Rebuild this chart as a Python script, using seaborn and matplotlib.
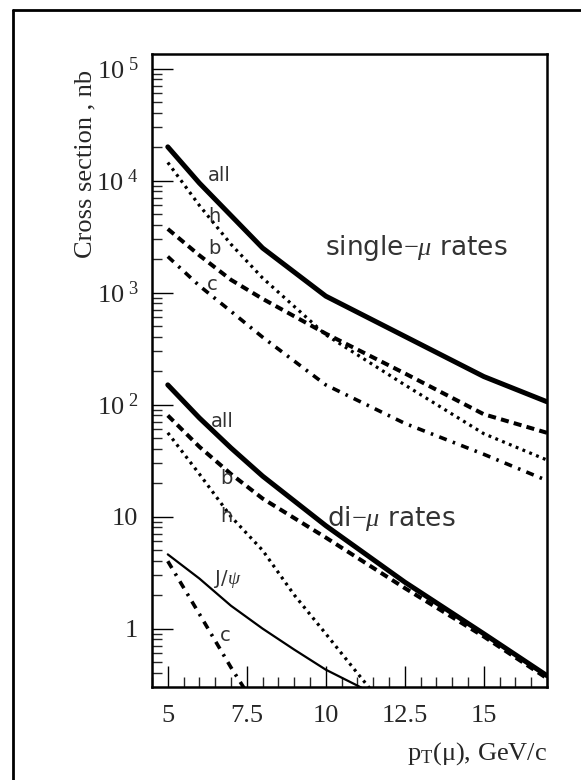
import numpy as np
import matplotlib
matplotlib.use("Agg")
import matplotlib.pyplot as plt
import matplotlib.ticker as mticker
from matplotlib.lines import Line2D
import seaborn as sns

# single-muon rates (nb) vs pT
pt_all1 = [5, 6, 8, 10, 15, 17]
single_all = [2.0e4, 9500, 2500, 930, 178, 106]
pt1 = [5, 6, 7, 8, 10, 12.5, 15, 17]
single_h = [1.45e4, 6000, 2700, 1350, 420, 150, 55, 32]
single_b = [3700, 2150, 1300, 880, 430, 190, 82, 56]
single_c = [2100, 1150, 680, 400, 150, 68, 36, 21]

# di-muon rates (nb) vs pT
pt2 = [5, 6, 7, 8, 10, 12.5, 15, 17]
di_all = [150, 76, 41, 23, 8.3, 2.6, 0.9, 0.38]
di_b = [80, 42, 24, 14.5, 6.5, 2.3, 0.85, 0.36]
pt_h2 = [5, 6, 7, 8, 9, 10, 11, 12]
di_h = [56, 24, 10, 5.0, 2.0, 0.9, 0.4, 0.18]
pt_jpsi = [5, 6, 7, 8, 9, 10, 11, 12]
di_jpsi = [4.6, 2.8, 1.6, 1.0, 0.65, 0.43, 0.31, 0.22]
pt_c2 = [5, 6, 7, 7.5]
di_c = [4.0, 1.35, 0.45, 0.27]

xticks = [5, 7.5, 10, 12.5, 15]
xticklabels = ["5", "7.5", "10", "12.5", "15"]

sns.set_style("ticks")
plt.rcParams["font.family"] = ["Liberation Serif", "DejaVu Serif"]
plt.rcParams["mathtext.fontset"] = "custom"
plt.rcParams["mathtext.rm"] = "Liberation Serif"
plt.rcParams["mathtext.it"] = "Liberation Serif:italic"

fig = plt.figure(figsize=(5.81, 7.80), dpi=100)
ax = fig.add_axes([0.2616, 0.1196, 0.6799, 0.8112])

dash_b = (0, (2.0, 1.3))
dots = (0, (0.9, 1.4))
dashdot = (0, (2.2, 1.8, 0.7, 1.8))

sns.lineplot(x=pt_all1, y=single_all, ax=ax, color="black", lw=3.6)
sns.lineplot(x=pt1, y=single_h, ax=ax, color="black", lw=2.3, linestyle=dots)
sns.lineplot(x=pt1, y=single_b, ax=ax, color="black", lw=2.9, linestyle=dash_b)
sns.lineplot(x=pt1, y=single_c, ax=ax, color="black", lw=2.6, linestyle=dashdot)

sns.lineplot(x=pt2, y=di_all, ax=ax, color="black", lw=3.6)
sns.lineplot(x=pt2, y=di_b, ax=ax, color="black", lw=2.9, linestyle=dash_b)
sns.lineplot(x=pt_h2, y=di_h, ax=ax, color="black", lw=2.3, linestyle=dots)
sns.lineplot(x=pt_jpsi, y=di_jpsi, ax=ax, color="black", lw=1.6)
sns.lineplot(x=pt_c2, y=di_c, ax=ax, color="black", lw=2.6, linestyle=dashdot)

ax.set_yscale("log")
ax.set_xlim(4.5, 17)
ax.set_ylim(0.303, 1.35e5)

ax.xaxis.set_major_locator(mticker.FixedLocator(xticks))
ax.xaxis.set_major_formatter(mticker.FixedFormatter(xticklabels))
ax.xaxis.set_minor_locator(mticker.MultipleLocator(0.5))

def ylab(v, pos):
    e = int(round(np.log10(v)))
    if e == 0:
        return "1"
    if e == 1:
        return "10"
    return r"$\mathrm{10}^{\mathrm{\ %d}}$" % e

ax.yaxis.set_major_locator(mticker.LogLocator(base=10, numticks=10))
ax.yaxis.set_major_formatter(mticker.FuncFormatter(ylab))
ax.yaxis.set_minor_locator(mticker.LogLocator(base=10, subs=np.arange(2, 10), numticks=20))
ax.yaxis.set_minor_formatter(mticker.NullFormatter())

ax.tick_params(which="major", direction="in", length=15, width=1, labelsize=19,
               top=False, right=False, pad=10, color="black")
ax.tick_params(axis="x", which="major", pad=13)
ax.tick_params(which="minor", direction="in", length=7.5, width=1,
               top=False, right=False)
for s in ax.spines.values():
    s.set_linewidth(1.8)
    s.set_color("black")

ax.set_ylabel("Cross section , nb", fontsize=19, loc="top")
ax.yaxis.set_label_coords(-0.14, 0.975)
ax.set_xlabel(r"p$_{\mathrm{T}}$(μ), GeV/c", fontsize=19, loc="right")
ax.xaxis.set_label_coords(1.0, -0.085)

sans = dict(family="DejaVu Sans", color="#333333", ha="center", va="center")
ax.text(6.64, 1.1e4, "all", fontsize=14, **sans)
ax.text(6.48, 4800, "h", fontsize=14, **sans)
ax.text(6.48, 2500, "b", fontsize=14, **sans)
ax.text(6.42, 1170, "c", fontsize=14, **sans)
ax.text(12.86, 2500, "single$-\\mu$ rates", fontsize=19, **sans)

ax.text(6.74, 70, "all", fontsize=14, **sans)
ax.text(6.84, 22, "b", fontsize=14, **sans)
ax.text(6.84, 10, "h", fontsize=14, **sans)
ax.text(6.9, 2.8, "J/$\\psi$", fontsize=14, **sans)
ax.text(6.83, 0.86, "c", fontsize=14, **sans)
ax.text(12.06, 9.7, "di$-\\mu$ rates", fontsize=19, **sans)

# outer frame (left and top edges visible)
fx = 13 / 581
fy = 1 - 10 / 780
fig.add_artist(Line2D([fx, fx], [0, fy], transform=fig.transFigure, color="black", lw=2))
fig.add_artist(Line2D([fx, 1], [fy, fy], transform=fig.transFigure, color="black", lw=2))

fig.savefig("out.png", dpi=100)
